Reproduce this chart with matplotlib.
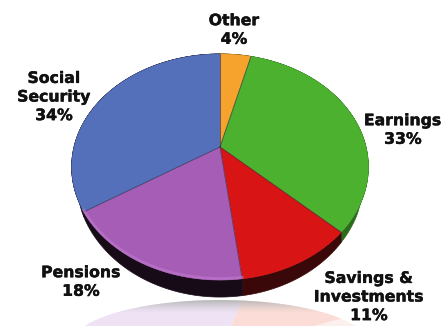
import numpy as np
import matplotlib
matplotlib.use("Agg")
import matplotlib.pyplot as plt
import matplotlib.patheffects as pe
from matplotlib.patches import Polygon

labels = ["Other\n4%", "Earnings\n33%", "Savings &\nInvestments\n11%", "Pensions\n18%", "Social\nSecurity\n34%"]
values = [4, 33, 11, 18, 34]
colors = ["#f5a32c", "#4bb12f", "#d81414", "#a65db5", "#5470bb"]
side_colors = ["#5a3c10", "#2c6a1c", "#3a0808", "#170b18", "#170b18"]
reflect_colors = ["#f4f0f8", "#fbf0ee", "#fbdcd6", "#eee2f4", "#e9e6f5"]
label_xy = [(234, 30), (403, 130), (369, 297), (81, 282), (54, 97)]

# pie centre on screen and perspective of the tilted disc
cx, cy = 220, 147
sx, sy = 146, 109.5
k = 0.177
depth = 17


def rim(a0, a1, n=60):
    # points on the pie edge between two shares (percent, clockwise from top)
    t = np.radians(np.linspace(a0, a1, n) * 3.6)
    u, v = np.sin(t), np.cos(t)
    d = 1 + k * v
    return cx + sx * u / d, cy - sy * v / d


def wall(y):
    # the side wall only shows towards the front and tapers out at the sides
    return depth * np.sqrt(np.clip((y - 205) / 75, 0, 1))


fig = plt.figure(figsize=(4.44, 3.26), dpi=100)
ax = fig.add_axes([0, 0, 1, 1])

edges = np.concatenate([[0], np.cumsum(values)])
edges = edges * 100 / edges[-1]

# reflection on the floor, flattened and faded
fx, fy = rim(0, 100, 240)
front = fy.max()
top_y = front + depth + 3
floor = ax.fill(fx, top_y + (front - fy) * 0.39, color="#ffffff", lw=0, zorder=1)[0]
for i in range(len(values)):
    x, y = rim(edges[i], edges[i + 1])
    pts = np.vstack([[cx, top_y + (front - cy) * 0.39], np.c_[x, top_y + (front - y) * 0.39]])
    ax.add_patch(Polygon(pts, fc=reflect_colors[i], ec="none", zorder=2))
fade = np.zeros((30, 2, 4))
fade[..., :3] = 0.72
fade[..., 3] = np.clip(np.linspace(1, -0.1, 30), 0, 1)[:, None] ** 1.5
img = ax.imshow(fade, extent=(0, 444, top_y + 15, top_y), aspect="auto", zorder=3, interpolation="bilinear")
img.set_clip_path(floor)

ax.set_xlim(0, 444)
ax.set_ylim(326, 0)
ax.axis("off")

# side wall under the disc
for i in range(len(values)):
    x, y = rim(edges[i], edges[i + 1])
    pts = np.vstack([np.c_[x, y], np.c_[x[::-1], y[::-1] + wall(y[::-1])]])
    ax.add_patch(Polygon(pts, fc=side_colors[i], ec=side_colors[i], lw=0.5, zorder=4))

# top face
for i in range(len(values)):
    x, y = rim(edges[i], edges[i + 1])
    pts = np.vstack([[cx, cy], np.c_[x, y]])
    ax.add_patch(Polygon(pts, fc=colors[i], ec=colors[i], lw=0.4, zorder=5))

# thin dark seams between slices
for e in edges[:-1]:
    x, y = rim(e, e, 2)
    ax.plot([cx, x[0]], [cy, y[0]], color="#3a2a40", lw=0.7, alpha=0.6, zorder=6)

# lighter rim on the front of the purple slice
x, y = rim(edges[3], edges[4])
ax.plot(x, y - 1.5, color="#c078d0", lw=2, alpha=0.6, zorder=6)

for text, (tx, ty) in zip(labels, label_xy):
    t = ax.text(tx, ty, text, ha="center", va="center", fontsize=11.3, fontweight="bold",
                color="#111111", family="DejaVu Sans", linespacing=1.3, zorder=7)
    t.set_path_effects([pe.withStroke(linewidth=0.3, foreground="#111111")])

fig.savefig("out.png", dpi=100)
